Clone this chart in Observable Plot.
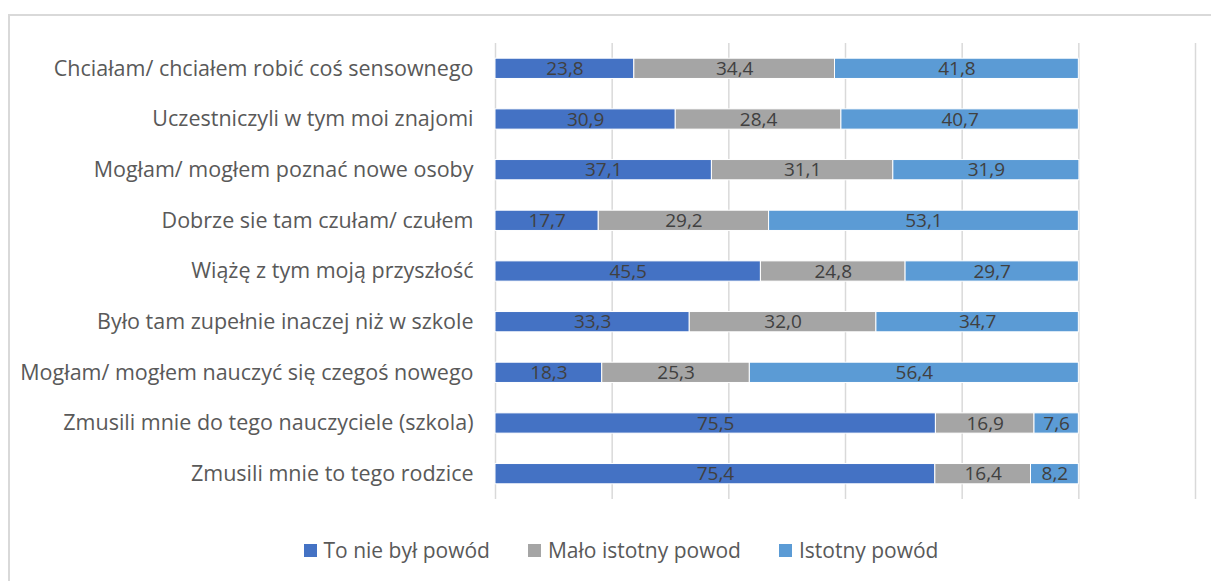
<!DOCTYPE html>
<html>
<head>
<meta charset="utf-8">
<script src="https://cdn.jsdelivr.net/npm/d3@7"></script>
<script src="https://cdn.jsdelivr.net/npm/@observablehq/plot@0.6"></script>
<style>
  html, body { margin: 0; padding: 0; background: #fff; width: 1211px; height: 581px; overflow: hidden; }
  #frame { position: absolute; left: 8px; top: 14px; width: 1300px; height: 700px; border: 2px solid #d9d9d9; box-sizing: border-box; }
  #chart { position: absolute; left: 0; top: 0; }
  #legend { position: absolute; left: 0; top: 536px; width: 1242px; display: flex; justify-content: center; gap: 38px; font-family: "Open Sans", sans-serif; font-size: 21px; color: #595959; }
  #legend .item { display: flex; align-items: center; gap: 7px; }
  #legend .sw { width: 13px; height: 13px; display: inline-block; }
</style>
</head>
<body>
<div id="frame"></div>
<div id="chart"></div>
<div id="legend"></div>
<script>
const categories = [
  "Chciałam/ chciałem robić coś sensownego",
  "Uczestniczyli w tym moi znajomi",
  "Mogłam/ mogłem poznać nowe osoby",
  "Dobrze sie tam czułam/ czułem",
  "Wiążę z tym moją przyszłość",
  "Było tam zupełnie inaczej niż w szkole",
  "Mogłam/ mogłem nauczyć się czegoś nowego",
  "Zmusili mnie do tego nauczyciele (szkola)",
  "Zmusili mnie to tego rodzice"
];
const seriesNames = ["To nie był powód", "Mało istotny powod", "Istotny powód"];
const seriesColors = ["#4472C4", "#A5A5A5", "#5B9BD5"];
const notReason   = [23.8, 30.9, 37.1, 17.7, 45.5, 33.3, 18.3, 75.5, 75.4];
const minorReason = [34.4, 28.4, 31.1, 29.2, 24.8, 32.0, 25.3, 16.9, 16.4];
const importantReason = [41.8, 40.7, 31.9, 53.1, 29.7, 34.7, 56.4, 7.6, 8.2];
const gridTicks = [0, 20, 40, 60, 80, 100, 120];

const seriesValues = [notReason, minorReason, importantReason];
const data = [];
seriesNames.forEach((s, si) => {
  categories.forEach((c, ci) => {
    data.push({category: c, series: s, value: seriesValues[si][ci]});
  });
});
const fmt = v => d3.format(".1f")(v).replace(".", ",");

const plot = Plot.plot({
  width: 1211,
  height: 520,
  marginLeft: 495,
  marginRight: 16,
  marginTop: 43,
  marginBottom: 21,
  style: {fontFamily: "'Open Sans', sans-serif", background: "transparent"},
  x: {domain: [0, 120], axis: null},
  y: {domain: categories, paddingInner: 0.6, paddingOuter: 0.3, round: false, label: null},
  color: {domain: seriesNames, range: seriesColors},
  marks: [
    Plot.ruleX(gridTicks, {stroke: "#d9d9d9", strokeWidth: 1.5}),
    Plot.barX(data, Plot.stackX({x: "value", y: "category", fill: "series", z: "series", order: null, stroke: "white", strokeWidth: 1})),
    Plot.text(data, Plot.stackX({x: "value", y: "category", z: "series", order: null, text: d => fmt(d.value), fill: "#404040", fontSize: 19})),
    Plot.axisY({tickSize: 0, tickPadding: 22, fontSize: 21.5, color: "#595959", label: null})
  ]
});
document.getElementById("chart").appendChild(plot);

const legend = document.getElementById("legend");
seriesNames.forEach((s, i) => {
  const item = document.createElement("div");
  item.className = "item";
  const sw = document.createElement("span");
  sw.className = "sw";
  sw.style.background = seriesColors[i];
  const t = document.createElement("span");
  t.textContent = s;
  item.appendChild(sw);
  item.appendChild(t);
  legend.appendChild(item);
});
</script>
</body>
</html>
